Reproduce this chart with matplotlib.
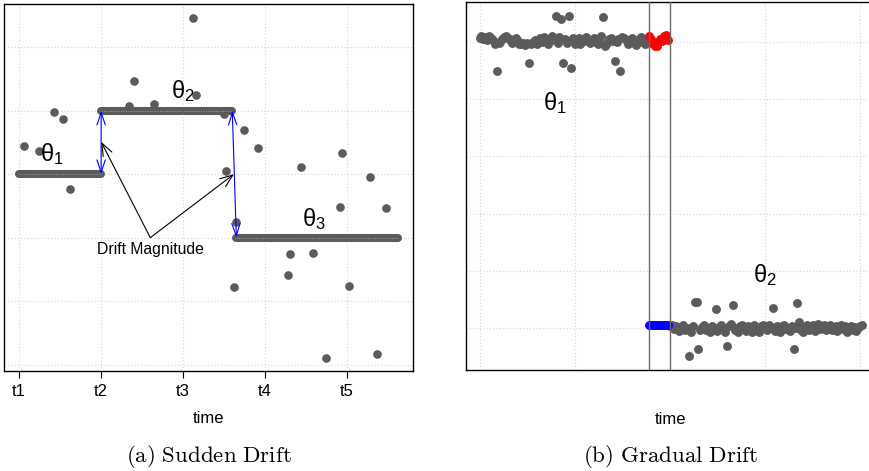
import matplotlib
matplotlib.use("Agg")
import matplotlib.pyplot as plt
import numpy as np
from matplotlib.patches import FancyArrowPatch

plt.rcParams['font.family'] = ['Liberation Sans', 'DejaVu Sans']
plt.rcParams['mathtext.fontset'] = 'custom'
plt.rcParams['mathtext.rm'] = 'Liberation Sans'
plt.rcParams['mathtext.it'] = 'Liberation Sans:italic'
plt.rcParams['mathtext.bf'] = 'Liberation Sans:bold'

GRAY = '#5b5b5b'
GRID = '#d4d4d4'

# ---------------- (a) Sudden drift data ----------------
tick_pos = [1, 2, 3, 4, 5]
tick_labels = ['t1', 't2', 't3', 't4', 't5']
seg_start = [1.0, 2.0, 3.65]
seg_end = [2.0, 3.60, 5.62]
seg_level = [3.0, 4.0, 2.0]
seg_names = [r'$\mathrm{\theta_1}$', r'$\mathrm{\theta_2}$', r'$\mathrm{\theta_3}$']
seg_label_x = [1.40, 3.00, 4.60]
seg_label_y = [3.31, 4.31, 2.30]

out_a_x = [1.06, 1.24, 1.42, 1.54, 1.62, 2.40, 2.34, 2.64, 3.12, 3.16, 3.50,
           3.74, 3.92, 3.52, 4.44, 4.94, 5.28, 4.92, 5.48, 3.64, 4.30, 4.58,
           4.28, 3.62, 5.02, 4.74, 5.36]
out_a_y = [3.44, 3.36, 3.98, 3.87, 2.76, 4.46, 4.07, 4.10, 5.46, 4.25, 3.94,
           3.69, 3.41, 3.05, 3.12, 3.34, 2.95, 2.49, 2.46, 2.25, 1.75, 1.76,
           1.41, 1.23, 1.24, 0.11, 0.16]

# ---------------- (b) Gradual drift data ----------------
theta1_vals = [5.07, 5.10, 5.05, 5.08, 5.03, 5.09, 5.06,
               5.02, 4.95, 4.49, 4.97, 5.00, 5.04,
               5.08, 5.10, 5.06, 5.02, 4.98, 5.04, 5.07, 5.01,
               4.96, 4.95, 4.98, 4.94, 4.97, 4.63, 4.95, 4.99, 5.02, 4.96, 5.03, 5.06, 5.00,
               5.08, 5.04, 4.96, 5.05, 5.10, 5.02, 5.45, 4.97, 5.08, 5.40, 4.63, 5.05, 4.98,
               5.44, 4.53, 5.06, 4.95,
               5.02, 5.07, 4.96, 5.00, 5.04, 5.08, 5.01, 4.97, 5.03, 5.06, 5.00, 4.95, 5.02,
               5.09, 5.43, 4.93, 4.98, 5.04, 5.07, 5.01,
               4.66, 4.99, 5.05, 4.49, 5.08, 5.06, 5.02, 4.96, 5.03, 5.07, 4.98, 4.94, 5.00,
               5.04, 5.08, 4.99, 4.96, 5.02]
mix_red_vals = [5.09, 5.04, 4.96, 4.92, 4.93, 4.99, 5.05, 5.01, 5.10, 5.12, 5.03]
mix_blue_vals = [0.05, 0.05, 0.06, 0.05, 0.05, 0.05, 0.06, 0.05, 0.05, 0.05, 0.05]
theta2_vals = [0.03, 0.06, -0.02, 0.04, 0.00, -0.05, 0.02, 0.05, -0.03, 0.01,
               -0.48, -0.06, 0.03, 0.45, 0.45, -0.37, -0.04, 0.02, 0.06, -0.03,
               0.00, -0.07, 0.04, 0.01, 0.34, -0.05, 0.02, 0.05, -0.02, -0.06,
               -0.32, 0.03, 0.07, 0.40, -0.04, 0.01, -0.07, 0.03, 0.06, -0.02,
               -0.05, 0.04, 0.00, -0.06, 0.05, 0.02, -0.03, -0.07, 0.03, 0.05,
               0.01, -0.04, 0.06, 0.02, 0.35, -0.05, 0.03, 0.00, -0.06, 0.04,
               0.05, -0.02, 0.01, -0.05, 0.03, -0.36, 0.00, 0.44, 0.10, -0.04,
               -0.07, 0.02, 0.05, -0.03, 0.00, 0.06, -0.05, 0.03, 0.07, -0.02,
               0.01, 0.05, -0.04, 0.02, 0.06, -0.03, 0.00, 0.04, -0.05, 0.02,
               0.05, -0.02, 0.03, -0.06, 0.01, 0.04, -0.03, 0.02, -0.05, 0.00,
               0.03, 0.06]
drift_window = [89, 100]

fig = plt.figure(figsize=(8.7, 4.71), dpi=100)

# ======== panel (a) ========
ax1 = fig.add_axes([4/870, 1-371/471, 409/870, 367/471])
ax1.set_xlim(0.815, 5.805)
ax1.set_ylim(-0.10, 5.68)
ax1.set_xticks(tick_pos)
ax1.set_xticklabels(tick_labels, fontsize=12)
ax1.set_yticks([0, 1, 2, 3, 4, 5])
ax1.tick_params(axis='y', length=0, labelleft=False)
ax1.tick_params(axis='x', length=5, width=0.8, pad=4)
ax1.grid(True, color=GRID, linestyle=(0, (1, 2)), linewidth=0.8)
ax1.set_axisbelow(True)
ax1.set_xlabel('time', fontsize=12, labelpad=9)

for s, e, lv in zip(seg_start, seg_end, seg_level):
    ax1.plot([s, e], [lv, lv], color=GRAY, lw=5.8, solid_capstyle='round', zorder=3)
    ax1.plot([s, e], [lv, lv], color='#a0a0a0', lw=0.7, ls=(0, (1, 1.5)), zorder=3.5)
ax1.plot(out_a_x, out_a_y, 'o', color=GRAY, ms=6.2, mec='none', zorder=3)

for name, lx, ly in zip(seg_names, seg_label_x, seg_label_y):
    ax1.text(lx, ly, name, fontsize=17, ha='center', va='center', zorder=5)

def arrow(ax, p0, p1, style, color):
    a = FancyArrowPatch(p0, p1, arrowstyle=style, color=color, lw=0.8,
                        mutation_scale=10, shrinkA=0, shrinkB=0, zorder=6)
    ax.add_patch(a)

# drift magnitude (blue double arrows)
arrow(ax1, (seg_end[0], seg_level[0]), (seg_start[1], seg_level[1]),
      '<->,head_length=0.9,head_width=0.3', 'blue')
arrow(ax1, (seg_end[1], seg_level[1]), (seg_start[2], seg_level[2]),
      '<->,head_length=0.9,head_width=0.3', 'blue')
# annotation arrows
arrow(ax1, (2.6, 2.0), (2.0, 3.51), '->,head_length=0.9,head_width=0.35', 'black')
arrow(ax1, (2.6, 2.0), (3.62, 3.0), '->,head_length=0.9,head_width=0.35', 'black')
ax1.text(2.6, 1.81, 'Drift Magnitude', fontsize=11.3, ha='center', va='center', zorder=6)

for sp in ax1.spines.values():
    sp.set_color('black')
    sp.set_linewidth(1.0)

fig.text(208.5/870, 1-456/471, r'$\mathrm{(a)\ Sudden\ Drift}$', fontsize=16.5,
         ha='center', va='center', math_fontfamily='cm')

# ======== panel (b) ========
ax2 = fig.add_axes([465.7/870, 1-370/471, 409.8/870, 368/471])
ax2.set_xlim(-7.25, 208)
ax2.set_ylim(-0.73, 5.69)
ax2.set_xticks([0, 50, 100, 150, 200])
ax2.set_yticks([0, 1, 2, 3, 4, 5])
ax2.tick_params(length=0, labelbottom=False, labelleft=False)
ax2.grid(True, color=GRID, linestyle=(0, (1, 2)), linewidth=0.8)
ax2.set_axisbelow(True)
ax2.set_xlabel('time', fontsize=12, labelpad=30)

x_t1 = np.arange(len(theta1_vals))
x_mix = np.arange(drift_window[0], drift_window[0] + len(mix_red_vals))
x_t2 = np.arange(drift_window[1], drift_window[1] + len(theta2_vals))

ax2.plot(x_t1, theta1_vals, 'o', color=GRAY, ms=6.4, mec='none', zorder=3)
ax2.plot(x_t2, theta2_vals, 'o', color=GRAY, ms=6.4, mec='none', zorder=3)
ax2.plot(x_mix, mix_red_vals, 'o', color='red', ms=6.4, mec='none', zorder=4)
ax2.plot(x_mix, mix_blue_vals, 'o', color='blue', ms=6.4, mec='none', zorder=4)
for xv in drift_window:
    ax2.axvline(xv, color='#6a6a6a', lw=1.0, zorder=5)

ax2.text(39.7, 3.92, r'$\mathrm{\theta_1}$', fontsize=17, ha='center', va='center')
ax2.text(150.1, 0.93, r'$\mathrm{\theta_2}$', fontsize=17, ha='center', va='center')

for sp in ax2.spines.values():
    sp.set_color('black')
    sp.set_linewidth(1.0)

fig.text(670.8/870, 1-456.5/471, r'$\mathrm{(b)\ Gradual\ Drift}$', fontsize=16.5,
         ha='center', va='center', math_fontfamily='cm')

fig.savefig('out.png', dpi=100)
